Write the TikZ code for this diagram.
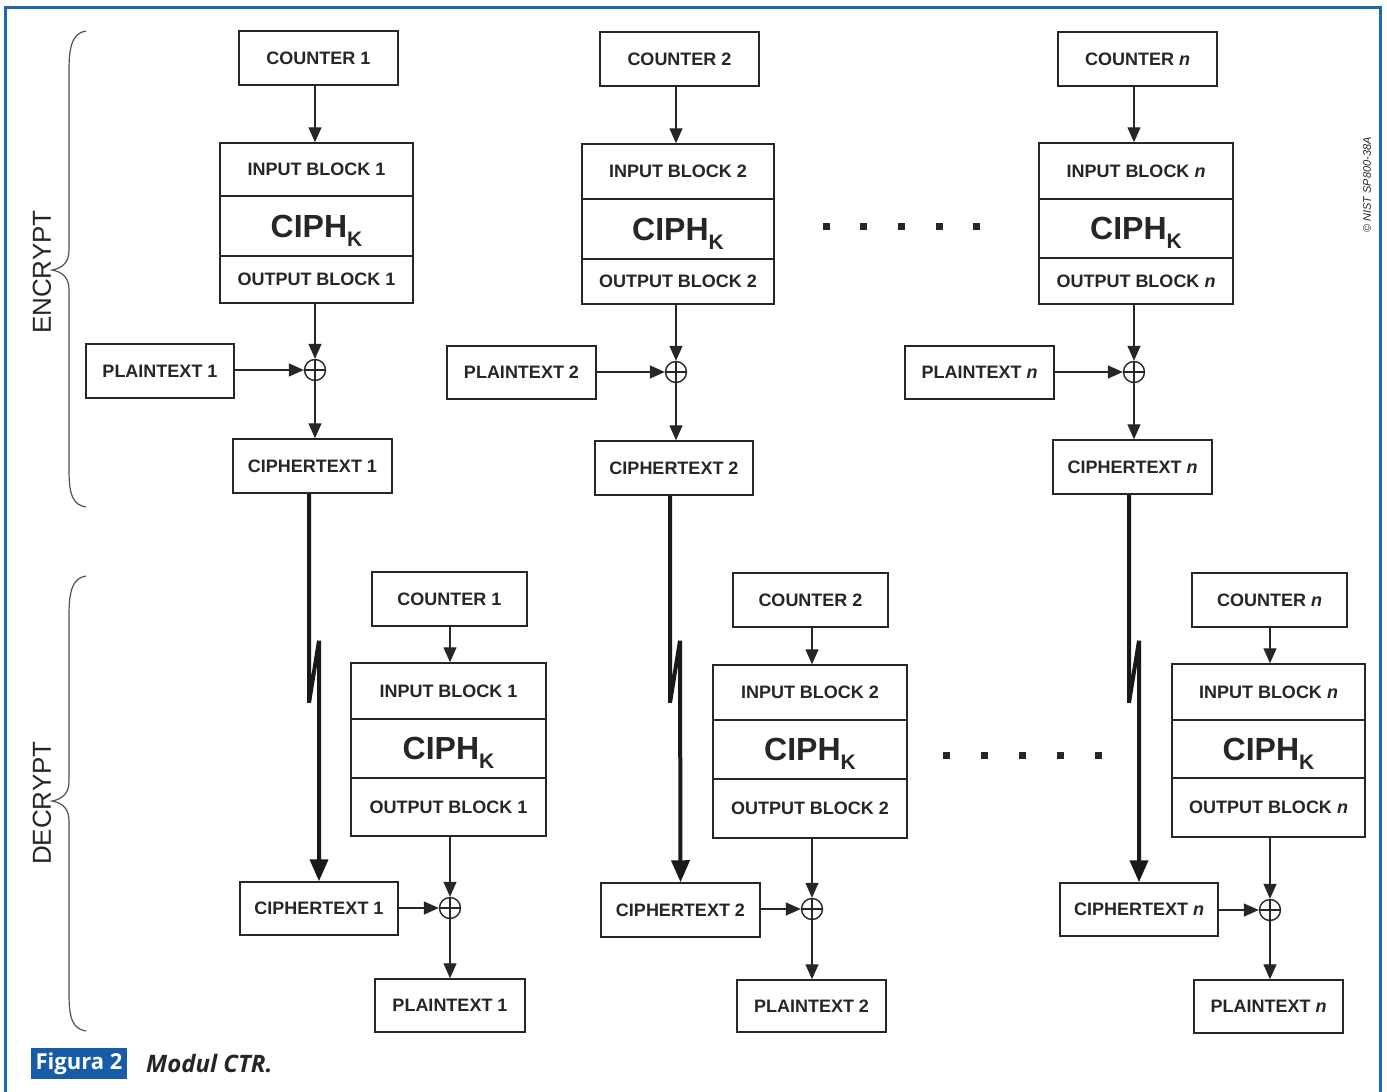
\documentclass[tikz,border=0pt]{standalone}
\usepackage{fontspec}
\setmainfont{Liberation Sans}
\newfontfamily\capfont{Open Sans}
\usetikzlibrary{arrows.meta,calc}
\definecolor{frameblue}{RGB}{28,104,180}
\definecolor{capblue}{RGB}{22,92,168}
\definecolor{ink}{RGB}{38,38,38}
\newcommand\ciphk{CIPH\raisebox{-9pt}[0pt][0pt]{\fontsize{21}{21}\selectfont K}}
\tikzset{
 blk/.style={draw=ink, line width=1.5pt, fill=white, inner sep=0pt, text=ink,
   font=\fontsize{18}{20}\selectfont\bfseries},
 ciphbox/.style={blk, font=\fontsize{32}{34}\selectfont\bfseries},
 conn/.style={draw=ink, line width=1.4pt, -{Triangle[length=15pt,width=13pt]}},
 bigconn/.style={draw=black!90, line width=4pt, line join=bevel,
   -{Triangle[length=22pt,width=18pt]}},
 xorn/.style={circle, draw=ink, line width=1.4pt, minimum size=21pt, inner sep=0pt, fill=white},
 dotsq/.style={fill=ink, minimum size=7pt, inner sep=0pt},
 brc/.style={draw=ink!80, line width=1.2pt},
 side/.style={text=ink, font=\fontsize{26}{26}\selectfont, rotate=90},
}
\newcommand\xorbars[1]{\draw[ink, line width=1.2pt] (#1.north) -- (#1.south) (#1.west) -- (#1.east);}
\begin{document}
\begin{tikzpicture}[x=1pt,y=-1pt]
\useasboundingbox (0,0) rectangle (1387,1092);
\fill[white] (0,0) rectangle (1387,1092);
% frame
\draw[frameblue, line width=3pt] (5,1092) -- (5,7) -- (1380,7) -- (1380,1092);

% ===== ENCRYPT column 1
\node[blk, minimum width=159pt, minimum height=54pt] (c1e) at (318.5,58) {COUNTER 1};
\node[blk, minimum width=193pt, minimum height=53pt] (ib1e) at (316.5,169.5) {INPUT BLOCK 1};
\node[ciphbox, minimum width=193pt, minimum height=60pt] (cp1e) at (316.5,226) {\ciphk};
\node[blk, minimum width=193pt, minimum height=47pt] (ob1e) at (316.5,279.5) {OUTPUT BLOCK 1};
\node[xorn] (x1e) at (315,370) {};
\node[blk, minimum width=148pt, minimum height=54pt] (pt1e) at (160,371) {PLAINTEXT 1};
\node[blk, minimum width=159pt, minimum height=54pt] (ct1e) at (312.5,466) {CIPHERTEXT 1};

% ===== ENCRYPT column 2
\node[blk, minimum width=159pt, minimum height=54pt] (c2e) at (679.5,59) {COUNTER 2};
\node[blk, minimum width=192pt, minimum height=55pt] (ib2e) at (678,171.5) {INPUT BLOCK 2};
\node[ciphbox, minimum width=192pt, minimum height=60pt] (cp2e) at (678,229) {\ciphk};
\node[blk, minimum width=192pt, minimum height=45pt] (ob2e) at (678,281.5) {OUTPUT BLOCK 2};
\node[xorn] (x2e) at (676,372) {};
\node[blk, minimum width=149pt, minimum height=53pt] (pt2e) at (521.5,372.5) {PLAINTEXT 2};
\node[blk, minimum width=158pt, minimum height=54pt] (ct2e) at (674,468) {CIPHERTEXT 2};

% ===== ENCRYPT column n
\node[blk, minimum width=159pt, minimum height=54pt] (cne) at (1137.5,59) {COUNTER \textit{n}};
\node[blk, minimum width=194pt, minimum height=56pt] (ibne) at (1136,171) {INPUT BLOCK \textit{n}};
\node[ciphbox, minimum width=194pt, minimum height=59pt] (cpne) at (1136,228.5) {\ciphk};
\node[blk, minimum width=194pt, minimum height=46pt] (obne) at (1136,281) {OUTPUT BLOCK \textit{n}};
\node[xorn] (xne) at (1134,372) {};
\node[blk, minimum width=149pt, minimum height=53pt] (ptne) at (979.5,372.5) {PLAINTEXT \textit{n}};
\node[blk, minimum width=159pt, minimum height=54pt] (ctne) at (1132.5,467) {CIPHERTEXT \textit{n}};

% ===== DECRYPT column 1
\node[blk, minimum width=155pt, minimum height=54pt] (c1d) at (449.5,599) {COUNTER 1};
\node[blk, minimum width=195pt, minimum height=56pt] (ib1d) at (448.5,691) {INPUT BLOCK 1};
\node[ciphbox, minimum width=195pt, minimum height=59pt] (cp1d) at (448.5,748.5) {\ciphk};
\node[blk, minimum width=195pt, minimum height=58pt] (ob1d) at (448.5,807) {OUTPUT BLOCK 1};
\node[xorn] (x1d) at (450,908) {};
\node[blk, minimum width=158pt, minimum height=53pt] (ct1d) at (319,908.5) {CIPHERTEXT 1};
\node[blk, minimum width=150pt, minimum height=53pt] (pt1d) at (450,1005.5) {PLAINTEXT 1};

% ===== DECRYPT column 2
\node[blk, minimum width=155pt, minimum height=54pt] (c2d) at (810.5,600) {COUNTER 2};
\node[blk, minimum width=194pt, minimum height=55pt] (ib2d) at (810,692.5) {INPUT BLOCK 2};
\node[ciphbox, minimum width=194pt, minimum height=59pt] (cp2d) at (810,749.5) {\ciphk};
\node[blk, minimum width=194pt, minimum height=59pt] (ob2d) at (810,808.5) {OUTPUT BLOCK 2};
\node[xorn] (x2d) at (812,909) {};
\node[blk, minimum width=159pt, minimum height=54pt] (ct2d) at (680.5,910) {CIPHERTEXT 2};
\node[blk, minimum width=149pt, minimum height=52pt] (pt2d) at (811.5,1006) {PLAINTEXT 2};

% ===== DECRYPT column n
\node[blk, minimum width=155pt, minimum height=54pt] (cnd) at (1269.5,600) {COUNTER \textit{n}};
\node[blk, minimum width=193pt, minimum height=56pt] (ibnd) at (1268.5,692) {INPUT BLOCK \textit{n}};
\node[ciphbox, minimum width=193pt, minimum height=58pt] (cpnd) at (1268.5,749) {\ciphk};
\node[blk, minimum width=193pt, minimum height=59pt] (obnd) at (1268.5,807.5) {OUTPUT BLOCK \textit{n}};
\node[xorn] (xnd) at (1270,910) {};
\node[blk, minimum width=158pt, minimum height=53pt] (ctnd) at (1139,909.5) {CIPHERTEXT \textit{n}};
\node[blk, minimum width=149pt, minimum height=53pt] (ptnd) at (1268.5,1006.5) {PLAINTEXT \textit{n}};

% XOR bars
\xorbars{x1e}\xorbars{x2e}\xorbars{xne}\xorbars{x1d}\xorbars{x2d}\xorbars{xnd}

% ===== connectors
\foreach \c/\ib/\ob/\x/\p/\t in {c1e/ib1e/ob1e/x1e/pt1e/ct1e, c2e/ib2e/ob2e/x2e/pt2e/ct2e, cne/ibne/obne/xne/ptne/ctne,
  c1d/ib1d/ob1d/x1d/ct1d/pt1d, c2d/ib2d/ob2d/x2d/ct2d/pt2d, cnd/ibnd/obnd/xnd/ctnd/ptnd}{
  \draw[conn] (\c.south -| \x) -- (\ib.north -| \x);
  \draw[conn] (\ob.south -| \x) -- (\x.north);
  \draw[conn] (\p.east |- \x) -- (\x.west);
  \draw[conn] (\x.south) -- (\t.north -| \x);
}

% ===== thick transfer arrows
\draw[bigconn] ($(ct1e.south)+(-3.5,0)$) -- ++(0,209) -- ++(10,-62) -- (ct1d.north);
\draw[bigconn] ($(ct2e.south)+(-4,0)$) -- ++(0,207) -- ++(10,-62) -- (ct2d.north);
\draw[bigconn] ($(ctne.south)+(-3.5,0)$) -- ++(0,208) -- ++(10,-62) -- (ctnd.north);

% ===== dots
\foreach \i/\xx in {1/826,2/863,3/901,4/939,5/976}{\node[dotsq] (de\i) at (\xx,226) {};}
\foreach \i/\xx in {1/946,2/984,3/1022,4/1060,5/1098}{\node[dotsq] (dd\i) at (\xx,755) {};}

% ===== braces
\draw[brc] (86,31) .. controls (73,33) and (69,45) .. (69,70) -- (69,250)
  .. controls (69,262) and (63,268) .. (52,270) .. controls (63,272) and (69,278) .. (69,290)
  -- (69,470) .. controls (69,495) and (73,505) .. (86,507);
\draw[brc] (86,576) .. controls (73,578) and (69,590) .. (69,615) -- (69,781)
  .. controls (69,793) and (63,799) .. (52,801) .. controls (63,803) and (69,809) .. (69,821)
  -- (69,994) .. controls (69,1019) and (73,1029) .. (86,1031);
\node[side] (enc) at (42,272) {ENCRYPT};
\node[side] (dec) at (42,803) {DECRYPT};

% ===== credit
\node[rotate=90, text=ink, font=\fontsize{11}{11}\selectfont\itshape] (nist) at (1367,185) {© NIST SP800-38A};

% ===== caption
\node[fill=capblue, text=white, minimum width=96pt, minimum height=31pt, inner sep=0pt,
  font=\capfont\bfseries\fontsize{22}{23}\selectfont] (figlab) at (79,1063.5) {Figura 2};
\node[anchor=west, inner sep=0pt, text=ink, font=\capfont\bfseries\itshape\fontsize{24}{25}\selectfont] (figcap) at (146,1063.5) {Modul CTR.};
\end{tikzpicture}
\end{document}
